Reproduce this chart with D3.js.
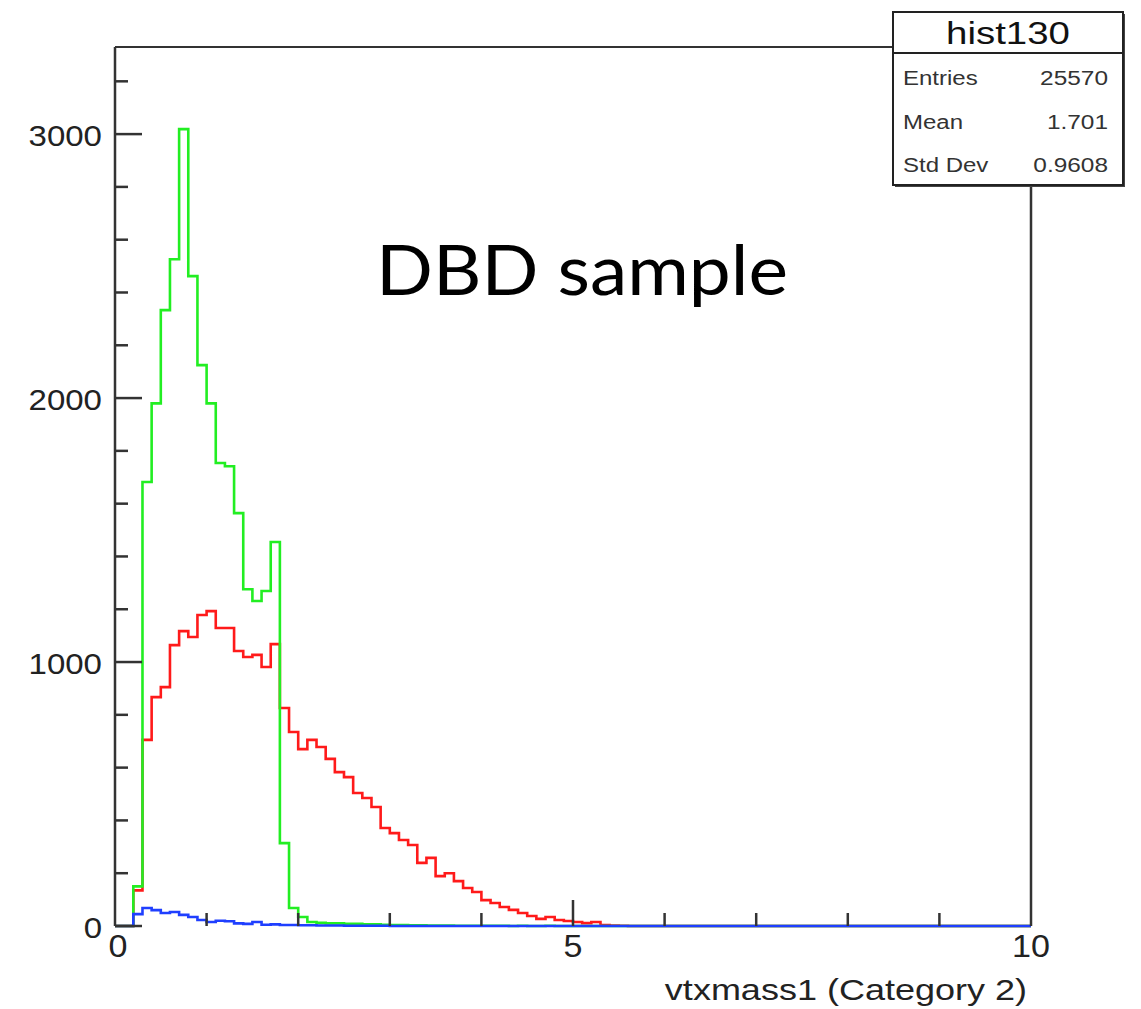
<!DOCTYPE html>
<html>
<head>
<meta charset="utf-8">
<script src="https://cdn.jsdelivr.net/npm/d3@7"></script>
<style>
  body { margin: 0; background: #fff; }
  svg { display: block; }
</style>
</head>
<body>
<div id="container"></div>
<script>
/* CONSTANTS AND GLOBALS */
const width = 1141,
      height = 1009,
      margin = {top: 47, left: 115, bottom: 83, right: 110};

// 100 bins of width 0.1 between 0 and 10
const binLow = 0, binHigh = 10, nBins = 100;

const greenCounts = [0, 0, 150, 1682, 1980, 2333, 2526, 3019, 2462, 2125,
  1980, 1754, 1742, 1564, 1276, 1231, 1269, 1455, 314, 68,
  34, 15, 12, 10, 10, 8, 8, 6, 6, 5,
  4, 4, 3, 3, 2, 2, 2, 1, 1, 1,
  1, 1, 1, 0, 1, 0, 0, 1, 0, 0];

const redCounts = [0, 0, 135, 705, 867, 905, 1064, 1117, 1095, 1178,
  1193, 1129, 1129, 1042, 1019, 1027, 981, 1068, 826, 735,
  670, 705, 678, 633, 583, 564, 504, 485, 451, 371,
  352, 326, 307, 239, 258, 189, 200, 170, 144, 129,
  98, 87, 72, 61, 49, 38, 27, 34, 23, 19,
  15, 11, 15, 4, 2, 1];

const blueCounts = [0, 0, 45, 68, 60, 49, 53, 42, 34, 23,
  15, 20, 18, 10, 8, 15, 5, 6, 4, 4,
  3, 3, 2, 2, 2, 1, 1, 1, 1, 1];

const statLabels = ["Entries", "Mean", "Std Dev"];
const statValues = ["25570", "1.701", "0.9608"];

const yMajorTicks = [0, 1000, 2000, 3000];
const xMajorTicks = [0, 5, 10];

const helv = "Liberation Sans, Arial, sans-serif";

/* SCALES */
const xScale = d3.scaleLinear()
  .domain([binLow, binHigh])
  .range([margin.left, width - margin.right]);

const yScale = d3.scaleLinear()
  .domain([0, 3330])
  .range([height - margin.bottom, margin.top]);

/* HTML ELEMENTS */
const svg = d3.select("#container")
  .append("svg")
  .attr("width", width)
  .attr("height", height)
  .style("background-color", "#fff");

// the original text is a bit wider than Liberation Sans, so stretch glyphs
function stretch(sel, k) {
  sel.each(function() {
    const len = this.getComputedTextLength();
    d3.select(this)
      .attr("textLength", len * k)
      .attr("lengthAdjust", "spacingAndGlyphs");
  });
}

// histogram outline, ROOT style
function histPath(counts) {
  const binW = (binHigh - binLow) / nBins;
  const full = d3.range(nBins).map(i => counts[i] || 0);
  const pts = [[binLow, 0]];
  full.forEach((v, i) => pts.push([binLow + i * binW, v]));
  pts.push([binHigh, full[nBins - 1]]);
  pts.push([binHigh, 0]);
  return d3.line()
    .x(d => xScale(d[0]))
    .y(d => yScale(d[1]))
    .curve(d3.curveStepAfter)(pts);
}

const series = [
  {counts: redCounts, color: "#ff1a1a"},
  {counts: greenCounts, color: "#22ee22"},
  {counts: blueCounts, color: "#1f3fff"}
];

svg.selectAll(".hist")
  .data(series)
  .join("path")
  .attr("class", "hist")
  .attr("d", d => histPath(d.counts))
  .attr("fill", "none")
  .attr("stroke", d => d.color)
  .attr("stroke-width", 2.6)
  .attr("stroke-linejoin", "miter");

// frame
const frame = svg.append("g");
frame.append("line")
  .attr("x1", xScale(0)).attr("x2", xScale(0))
  .attr("y1", yScale(0)).attr("y2", margin.top)
  .attr("stroke", "#333").attr("stroke-width", 2.5);
frame.append("line")
  .attr("x1", xScale(0)).attr("x2", xScale(10))
  .attr("y1", margin.top).attr("y2", margin.top)
  .attr("stroke", "#333").attr("stroke-width", 2);
frame.append("line")
  .attr("x1", xScale(10)).attr("x2", xScale(10))
  .attr("y1", margin.top).attr("y2", yScale(0))
  .attr("stroke", "#333").attr("stroke-width", 2.5);

// y ticks
const yTicks = d3.range(0, 3330, 200);
svg.selectAll(".ytick")
  .data(yTicks)
  .join("line")
  .attr("class", "ytick")
  .attr("x1", xScale(0))
  .attr("x2", d => xScale(0) + (d % 1000 === 0 ? 27 : 13))
  .attr("y1", d => yScale(d))
  .attr("y2", d => yScale(d))
  .attr("stroke", "#333")
  .attr("stroke-width", 2.5);

svg.selectAll(".ylabel")
  .data(yMajorTicks)
  .join("text")
  .attr("class", "ylabel")
  .attr("x", xScale(0) - 13)
  .attr("y", d => yScale(d) + 12)
  .attr("text-anchor", "end")
  .attr("font-family", helv)
  .attr("font-size", 30)
  .attr("fill", "#222")
  .text(d => d)
  .call(stretch, 1.1);

// x ticks
const xTicks = d3.range(1, 10, 1);
svg.selectAll(".xtick")
  .data(xTicks)
  .join("line")
  .attr("class", "xtick")
  .attr("x1", d => xScale(d))
  .attr("x2", d => xScale(d))
  .attr("y1", yScale(0))
  .attr("y2", d => yScale(0) - (d % 5 === 0 ? 26 : 13))
  .attr("stroke", "#333")
  .attr("stroke-width", 2.5);

svg.selectAll(".xlabel")
  .data(xMajorTicks)
  .join("text")
  .attr("class", "xlabel")
  .attr("x", d => xScale(d) + (d === 0 ? 3 : 0))
  .attr("y", yScale(0) + 31)
  .attr("text-anchor", "middle")
  .attr("font-family", helv)
  .attr("font-size", 31)
  .attr("fill", "#222")
  .text(d => d)
  .call(stretch, 1.1);

// axis title
svg.append("text")
  .attr("x", xScale(10) - 4)
  .attr("y", 1000)
  .attr("text-anchor", "end")
  .attr("font-family", helv)
  .attr("font-size", 30)
  .attr("fill", "#222")
  .text("vtxmass1 (Category 2)")
  .call(stretch, 1.2);

// annotation
svg.append("text")
  .attr("x", 376)
  .attr("y", 295)
  .attr("font-family", "Lato, 'Open Sans', sans-serif")
  .attr("font-size", 70)
  .attr("fill", "#000")
  .text("DBD sample")
  .call(stretch, 1.07);

/* STATS BOX */
const box = {x: 893, y: 12, w: 230, h: 173, titleH: 41};
const stats = svg.append("g");
stats.append("rect")
  .attr("x", box.x + 2).attr("y", box.y + 2)
  .attr("width", box.w).attr("height", box.h)
  .attr("fill", "#444");
stats.append("rect")
  .attr("x", box.x).attr("y", box.y)
  .attr("width", box.w).attr("height", box.h)
  .attr("fill", "#fff")
  .attr("stroke", "#222")
  .attr("stroke-width", 2);
stats.append("line")
  .attr("x1", box.x).attr("x2", box.x + box.w)
  .attr("y1", box.y + box.titleH).attr("y2", box.y + box.titleH)
  .attr("stroke", "#222").attr("stroke-width", 2);
stats.append("text")
  .attr("x", box.x + box.w / 2)
  .attr("y", box.y + 32)
  .attr("text-anchor", "middle")
  .attr("font-family", helv)
  .attr("font-size", 32)
  .attr("fill", "#111")
  .text("hist130")
  .call(stretch, 1.2);

stats.selectAll(".slabel")
  .data(statLabels)
  .join("text")
  .attr("class", "slabel")
  .attr("x", box.x + 10)
  .attr("y", (d, i) => 85 + i * 43.5)
  .attr("font-family", helv)
  .attr("font-size", 20)
  .attr("fill", "#333")
  .text(d => d)
  .call(stretch, 1.2);

stats.selectAll(".svalue")
  .data(statValues)
  .join("text")
  .attr("class", "svalue")
  .attr("x", box.x + box.w - 15)
  .attr("y", (d, i) => 85 + i * 43.5)
  .attr("text-anchor", "end")
  .attr("font-family", helv)
  .attr("font-size", 20)
  .attr("fill", "#333")
  .text(d => d)
  .call(stretch, 1.22);
</script>
</body>
</html>
